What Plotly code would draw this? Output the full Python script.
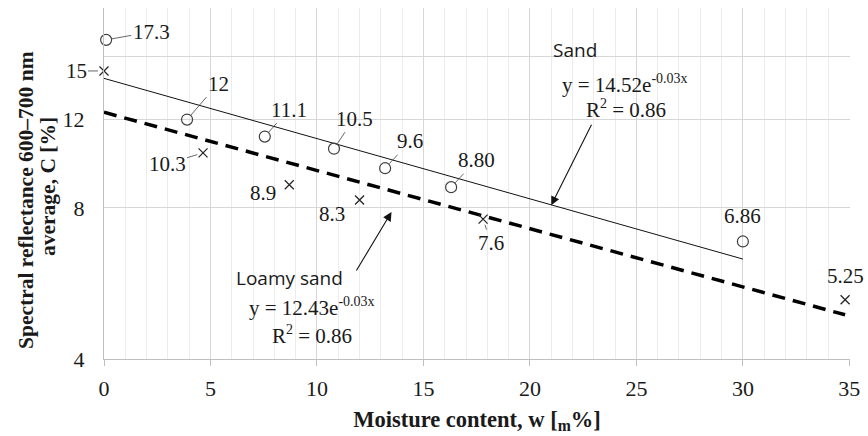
import numpy as np
import plotly.graph_objects as go

# ---- data ----
sand_x = [0.1, 3.9, 7.55, 10.8, 13.2, 16.3, 30.0]
sand_y = [17.3, 12.0, 11.1, 10.5, 9.6, 8.8, 6.86]
sand_lbl = ["17.3", "12", "11.1", "10.5", "9.6", "8.80", "6.86"]

loamy_x = [0.0, 4.65, 8.7, 12.0, 17.8, 34.8]
loamy_y = [15.0, 10.3, 8.9, 8.3, 7.6, 5.25]
loamy_lbl = ["15", "10.3", "8.9", "8.3", "7.6", "5.25"]

y_tickvals = [4, 8, 12, 16, 20]
y_ticktext = ["4", "8", "12", "", ""]
x_tickvals = [0, 5, 10, 15, 20, 25, 30, 35]

# label offsets in pixels (text centre relative to point), with leader flag
sand_off = [(45, -8, True), (31, -36, True), (24, -27, True), (20, -30, True),
            (25, -27, True), (25, -27, True), (0, -25, False)]
loamy_off = [(-28, 0, True), (-36, 11, True), (-26, 8, False), (-28, 14, False),
             (8, 24, True), (0, -24, False)]

SERIF = "Liberation Serif, Times New Roman, serif"
SANS = "Open Sans, Noto Sans, sans-serif"
TXT = "#1a1a1a"


def exp_fit(x, y):
    b, ln_a = np.polyfit(np.asarray(x), np.log(np.asarray(y)), 1)
    return np.exp(ln_a), b


fig = go.Figure()

# trendlines (exponential fits of the data)
a_s, b_s = exp_fit(sand_x, sand_y)
tx = np.linspace(0, max(sand_x), 120)
fig.add_trace(go.Scatter(x=tx, y=a_s * np.exp(b_s * tx), mode="lines",
                         line=dict(color="#111111", width=1), hoverinfo="skip",
                         showlegend=False))
a_l, b_l = exp_fit(loamy_x, loamy_y)
tx2 = np.linspace(0, max(loamy_x), 160)
fig.add_trace(go.Scatter(x=tx2, y=a_l * np.exp(b_l * tx2), mode="lines",
                         line=dict(color="#000000", width=3.5, dash="13px,8px"),
                         hoverinfo="skip", showlegend=False))

# markers
fig.add_trace(go.Scatter(x=sand_x, y=sand_y, mode="markers", cliponaxis=False,
                         marker=dict(symbol="circle-open", size=11, color="#404040",
                                     line=dict(color="#404040", width=1.2)),
                         showlegend=False))
fig.add_trace(go.Scatter(x=loamy_x, y=loamy_y, mode="markers", cliponaxis=False,
                         marker=dict(symbol="x-thin-open", size=9, color="#262626",
                                     line=dict(color="#262626", width=1.3)),
                         showlegend=False))


# data labels
def add_labels(xs, ys, labels, offs):
    for x, y, t, (ax, ay, lead) in zip(xs, ys, labels, offs):
        fig.add_annotation(x=x, y=np.log10(y), text=t, xref="x", yref="y",
                           showarrow=True, arrowhead=0, arrowwidth=0.8,
                           arrowcolor="#404040" if lead else "rgba(0,0,0,0)",
                           standoff=6, ax=ax, ay=ay,
                           font=dict(family=SERIF, size=21, color=TXT))


add_labels(sand_x, sand_y, sand_lbl, sand_off)
add_labels(loamy_x, loamy_y, loamy_lbl, loamy_off)


# pixel->data helpers for caption placement (plot area: x 104..852, y 8..359)
def dx(px):
    return (px - 104.7) / 21.35


def dy(py):
    return np.log10(4) + (359 - py) / 502.0


def caption(px, py, text, family, size):
    fig.add_annotation(x=dx(px), y=dy(py), xref="x", yref="y", text=text,
                       showarrow=False, font=dict(family=family, size=size, color=TXT),
                       xanchor="center", yanchor="middle")


SUP = "<sup><span style='font-size:14px'>{}</span></sup>"
caption(577, 50, "Sand", SANS, 19)
caption(627, 84, "y = 14.52e" + SUP.format("-0.03x"), SERIF, 21)
caption(628, 109, "R" + SUP.format("2") + " = 0.86", SERIF, 21)
caption(291, 278, "Loamy sand", SANS, 19)
caption(313, 307, "y = 12.43e" + SUP.format("-0.03x"), SERIF, 21)
caption(313, 335, "R" + SUP.format("2") + " = 0.86", SERIF, 21)

# arrows
fig.add_annotation(x=21, y=np.log10(8.1), xref="x", yref="y", text="",
                   showarrow=True, arrowhead=2, arrowsize=1.6, arrowwidth=1.1,
                   arrowcolor="#111111", ax=41, ay=-82)
fig.add_annotation(x=13.5, y=np.log10(7.85), xref="x", yref="y", text="",
                   showarrow=True, arrowhead=2, arrowsize=1.6, arrowwidth=1.1,
                   arrowcolor="#111111", ax=-36, ay=60)

# y axis title (two lines, as placed in the reference)
fig.add_annotation(x=0, y=(359 - 200) / 351, xref="paper", yref="paper", xshift=-78,
                   text="<b>Spectral reflectance 600–700 nm</b>",
                   textangle=-90, showarrow=False, xanchor="center", yanchor="middle",
                   font=dict(family=SERIF, size=21.5, color=TXT))
fig.add_annotation(x=0, y=(359 - 187) / 351, xref="paper", yref="paper", xshift=-56,
                   text="<b>average, C [%]</b>",
                   textangle=-90, showarrow=False, xanchor="center", yanchor="middle",
                   font=dict(family=SERIF, size=21.5, color=TXT))

fig.update_layout(
    width=868, height=436,
    margin=dict(l=104, r=16, t=8, b=77),
    paper_bgcolor="white", plot_bgcolor="white",
    showlegend=False,
    xaxis=dict(range=[0, 35.03], tickvals=x_tickvals, ticks="outside", ticklen=6,
               tickcolor="#bfbfbf", showline=True, linecolor="#bfbfbf",
               showgrid=True, gridcolor="#d6d6d6", zeroline=False,
               ticklabelstandoff=4,
               minor=dict(dtick=1, showgrid=True, gridcolor="#ececec", ticks=""),
               tickfont=dict(family=SERIF, size=22, color=TXT),
               title=dict(text="<b>Moisture content, w [<sub>m</sub>%]</b>",
                          font=dict(family=SERIF, size=22.5, color=TXT), standoff=10)),
    yaxis=dict(type="log", range=[np.log10(4), np.log10(20) + 0.0005],
               tickvals=y_tickvals, ticktext=y_ticktext, ticks="",
               ticklabelstandoff=14, showline=True, linecolor="#bfbfbf",
               showgrid=True, gridcolor="#d6d6d6", zeroline=False,
               tickfont=dict(family=SERIF, size=22, color=TXT)),
)

fig.write_html("out.html")
